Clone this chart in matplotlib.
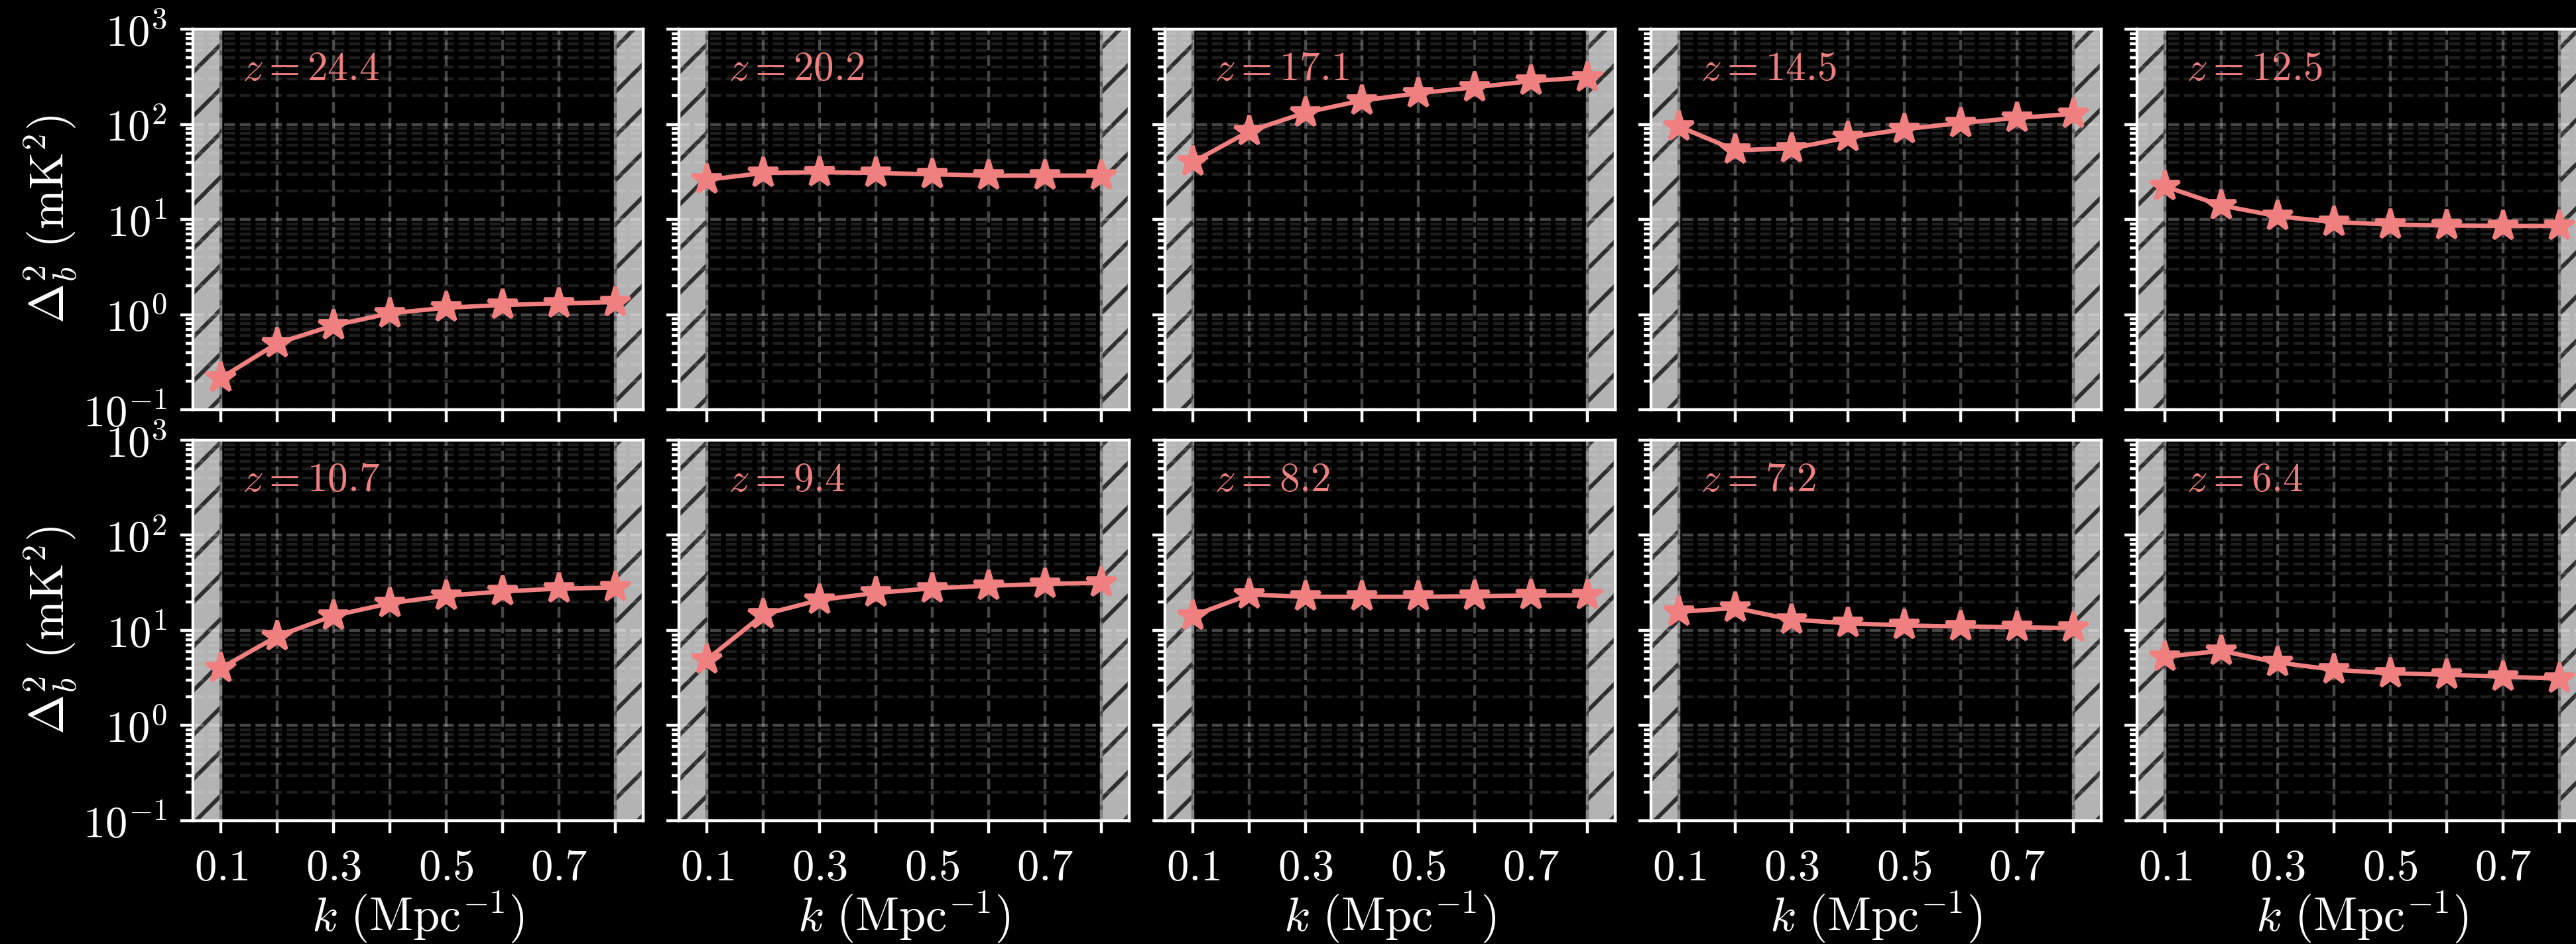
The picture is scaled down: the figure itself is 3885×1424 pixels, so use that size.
import numpy as np
import matplotlib
matplotlib.use("Agg")
import matplotlib.pyplot as plt
from matplotlib.ticker import FuncFormatter, NullFormatter, LogLocator

plt.rcParams['mathtext.fontset'] = 'cm'
plt.rcParams['font.family'] = 'serif'
plt.rcParams['font.serif'] = ['DejaVu Serif']
plt.rcParams['hatch.linewidth'] = 1.1

# k bins (Mpc^-1) and redshifts
k = [0.1, 0.2, 0.3, 0.4, 0.5, 0.6, 0.7, 0.8]
redshifts = [24.4, 20.2, 17.1, 14.5, 12.5, 10.7, 9.4, 8.2, 7.2, 6.4]

# Delta_b^2 (mK^2)
d_244 = [0.216, 0.50, 0.77, 1.03, 1.18, 1.26, 1.31, 1.35]
d_202 = [26.1, 30.8, 31.3, 30.8, 29.8, 28.9, 28.9, 28.9]
d_171 = [40.2, 84.7, 133.0, 178.0, 212.0, 245.0, 284.0, 312.0]
d_145 = [94.6, 53.5, 55.8, 72.7, 88.9, 103.0, 116.6, 128.6]
d_125 = [22.2, 14.0, 10.8, 9.4, 8.85, 8.63, 8.53, 8.53]
d_107 = [4.02, 8.7, 14.3, 19.3, 23.2, 25.7, 27.5, 28.2]
d_94 = [4.97, 14.7, 20.9, 24.8, 27.7, 29.5, 30.8, 31.7]
d_82 = [14.3, 23.8, 22.6, 22.6, 22.6, 22.9, 23.3, 23.3]
d_72 = [15.7, 17.2, 13.0, 11.9, 11.3, 11.0, 10.8, 10.6]
d_64 = [5.3, 6.1, 4.6, 3.86, 3.55, 3.43, 3.26, 3.12]
power = [d_244, d_202, d_171, d_145, d_125, d_107, d_94, d_82, d_72, d_64]

xticks = [0.1, 0.2, 0.3, 0.4, 0.5, 0.6, 0.7, 0.8]
xticklabels = [r'$0.1$', '', r'$0.3$', '', r'$0.5$', '', r'$0.7$', '']

W, H, dpi = 3885, 1424, 400
fig, axes = plt.subplots(2, 5, figsize=(W/dpi, H/dpi), dpi=dpi, sharex=True, sharey=True)
fig.patch.set_facecolor('black')
fig.subplots_adjust(left=291/W, right=3902/W, top=1-44/H, bottom=1-1238/H,
                    wspace=54/679, hspace=46/574)

col = '#F08080'
for i, ax in enumerate(axes.flat):
    ax.set_facecolor('black')
    # excluded k ranges
    for a, b in [(0.05, 0.1), (0.8, 0.85)]:
        ax.axvspan(a, b, facecolor='#b3b3b3', edgecolor='#5a5a5a', lw=0.8, zorder=1)
        ax.axvspan(a, b, facecolor='none', edgecolor='#2e2e2e', hatch='//', lw=0, zorder=1.1)
    ax.plot(k, power[i], color=col, marker='*', ms=8.5, lw=1.2, zorder=3)
    ax.text(0.11, 0.865, r'$z = %.1f$' % redshifts[i], transform=ax.transAxes,
            color=col, fontsize=11, va='baseline', ha='left', zorder=4)

    ax.set_yscale('log')
    ax.set_ylim(0.1, 1000)
    ax.set_xlim(0.05, 0.85)
    ax.set_xticks(xticks)
    ax.set_xticklabels(xticklabels)
    ax.yaxis.set_major_locator(LogLocator(base=10, numticks=10))
    ax.yaxis.set_minor_locator(LogLocator(base=10, subs=np.arange(2, 10), numticks=50))
    ax.yaxis.set_major_formatter(FuncFormatter(lambda v, p: r'$10^{%d}$' % round(np.log10(v))))
    ax.yaxis.set_minor_formatter(NullFormatter())

    ax.set_axisbelow('line')
    ax.grid(which='major', color='white', alpha=0.28, ls='--', lw=0.8)
    ax.grid(which='minor', axis='y', color='white', alpha=0.12, ls='--', lw=0.8)

    for s in ax.spines.values():
        s.set_color('white')
        s.set_linewidth(0.8)
        s.set_zorder(5)
    ax.tick_params(which='both', direction='out', colors='white', labelsize=12)
    ax.tick_params(which='major', length=3.5, width=0.8)
    ax.tick_params(which='minor', length=2.0, width=0.8)

    if i % 5 == 0:
        ax.set_ylabel(r'$\Delta_b^2\ (\mathrm{mK}^2)$', color='white', fontsize=13, labelpad=1)
    if i >= 5:
        ax.set_xlabel(r'$k\ (\mathrm{Mpc}^{-1})$', color='white', fontsize=13, labelpad=0)

fig.savefig('out.png', dpi=dpi, facecolor='black')
